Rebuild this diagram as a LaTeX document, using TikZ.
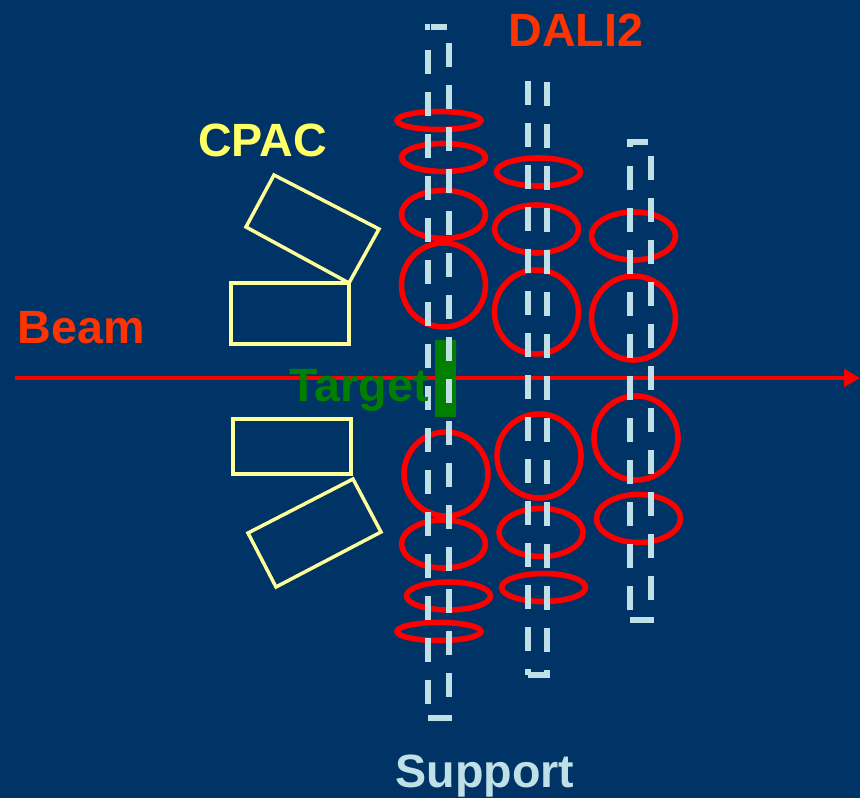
\documentclass[tikz,border=0pt]{standalone}
\usepackage{fontspec}
\setmainfont{Liberation Sans}
\usetikzlibrary{arrows.meta}
\definecolor{bgblue}{HTML}{003366}
\definecolor{ringred}{HTML}{FF0000}
\definecolor{labelred}{HTML}{FF3300}
\definecolor{cpacyellow}{HTML}{FFFF99}
\definecolor{cpactext}{HTML}{FFFF66}
\definecolor{supportblue}{HTML}{BFE0E6}
\definecolor{targetgreen}{HTML}{007F00}
\tikzset{
  x=0.75pt,y=-0.75pt,
  ring/.style={draw=ringred,line width=4.2pt},
  cpacbox/.style={draw=cpacyellow,line width=2.6pt,line join=miter},
  supportdash/.style={draw=supportblue,line width=4.5pt,dash pattern=on 18pt off 13.5pt},
  supportbar/.style={draw=supportblue,line width=4.5pt},
  lbl/.style={font=\fontsize{35}{40}\selectfont\bfseries,anchor=base,inner sep=0pt},
}
\newcommand{\ringat}[4]{\draw[ring] (#1,#2) ellipse [x radius=#3*0.75pt,y radius=#4*0.75pt];}
\begin{document}
\begin{tikzpicture}
\useasboundingbox (0,0) rectangle (860,798);
\fill[bgblue] (0,0) rectangle (860,798);
% beam
\coordinate (beamstart) at (15,378);
\coordinate (beamend) at (860,378);
\draw[draw=ringred,line width=3.6pt,-{Triangle[length=12pt,width=13pt]}] (beamstart) -- (beamend);
% target
\fill[targetgreen] (435,340) rectangle (456,417);
% CPAC
\draw[cpacbox] (231,283) rectangle (349,344);
\draw[cpacbox] (233,419) rectangle (351,474);
\draw[cpacbox] (274,175) -- (379,229) -- (349,283) -- (246,227) -- cycle;
\draw[cpacbox] (353,479) -- (381,532) -- (276,587) -- (248,533) -- cycle;
% rings
\ringat{439}{120.5}{42}{9}
\ringat{443.5}{157.5}{42}{14}
\ringat{443.5}{214.5}{42}{24}
\ringat{443.5}{285}{42}{42}
\ringat{446}{474}{42}{42}
\ringat{443.5}{544}{42}{24}
\ringat{448.5}{596}{42}{14}
\ringat{439}{631.5}{42}{9}
\ringat{538.5}{172}{42}{14}
\ringat{536.5}{229}{42}{24}
\ringat{536.5}{312}{42}{42}
\ringat{539}{456}{42}{42}
\ringat{541}{532.5}{42}{24}
\ringat{543.5}{587.5}{42}{14}
\ringat{633.5}{236}{42}{24}
\ringat{633.5}{318}{42}{42}
\ringat{636}{438}{42}{42}
\ringat{638.5}{518.5}{42}{24}
% supports
\draw[supportdash] (428,50) -- (428,704);
\draw[supportdash] (449,43) -- (449,697);
\draw[supportbar] (425,27) -- (430,27);
\draw[supportbar] (431,27) -- (447,27);
\draw[supportbar] (428,718) -- (452,718);
\draw[supportdash] (528,81) -- (528,652);
\draw[supportdash] (547,82) -- (547,652);
\draw[supportbar] (528,669) -- (528,675);
\draw[supportbar] (528,675) -- (550,675);
\draw[supportbar] (547,670) -- (547,675);
\draw[supportdash] (630,166) -- (630,610);
\draw[supportdash] (651,156) -- (651,600);
\draw[supportbar] (627,142) -- (648,142);
\draw[supportbar] (630,142) -- (630,147);
\draw[supportbar] (630,620) -- (654,620);
% labels
\node[lbl,text=labelred] (dali) at (576,47) {DALI2};
\node[lbl,text=cpactext] (cpac) at (262.5,157) {CPAC};
\node[lbl,text=labelred] (beam) at (81,344) {Beam};
\node[lbl,text=targetgreen] (target) at (359,402) {Target};
\node[lbl,text=supportblue] (support) at (485,787) {Support};
\end{tikzpicture}
\end{document}
